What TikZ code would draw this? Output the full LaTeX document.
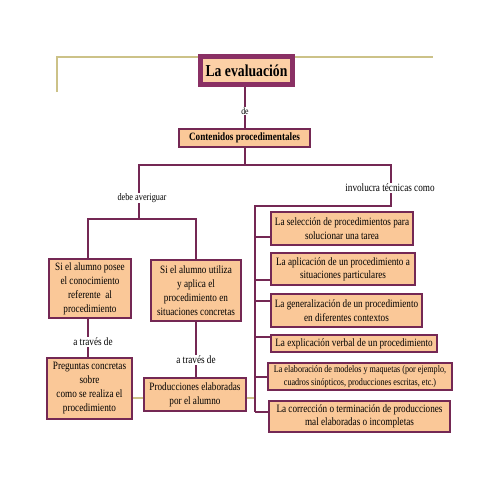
\documentclass[tikz,border=0pt]{standalone}
\usepackage{fontspec}
\setmainfont{Liberation Serif}[FakeStretch=0.82]
\definecolor{plum}{RGB}{116,40,84}
\definecolor{plumT}{RGB}{138,48,100}
\definecolor{peach}{RGB}{250,200,152}
\definecolor{peachT}{RGB}{252,208,166}
\definecolor{oliveln}{RGB}{204,194,136}
\tikzset{
  box/.style={draw=plum, line width=2pt, fill=peach, inner sep=0pt, align=center,
              font=\fontsize{11.2}{14}\selectfont},
  rbox/.style={box, line width=2.2pt, font=\fontsize{11.2}{13.4}\selectfont},
  conn/.style={draw=plum, line width=2pt},
  oliveline/.style={draw=oliveln, line width=1.5pt},
  lbl/.style={fill=white, inner sep=0.6pt, font=\fontsize{11.2}{13}\selectfont}
}
\begin{document}
\begin{tikzpicture}[x=1pt,y=-1pt]
\useasboundingbox[fill=white] (0,0) rectangle (495,495);
% olive background lines
\coordinate (t1) at (57,92);
\coordinate (t2) at (57,57);
\coordinate (t3) at (433,57);
\draw[oliveline] (t1) -- (t2) -- (t3);
\coordinate (o1) at (133,398);
\coordinate (o2) at (255,398);
\draw[oliveline] (o1) -- (o2);
% main nodes
\node[draw=plumT, line width=5pt, fill=peachT, inner sep=0pt, minimum width=92pt, minimum height=28pt,
      font=\fontsize{16.7}{18}\selectfont\bfseries] (T) at (246.5,70.5) {La evaluación};
\node[box, minimum width=131pt, minimum height=18pt, font=\fontsize{11.2}{13}\selectfont\bfseries] (C) at (244.5,138) {Contenidos procedimentales};
% left boxes
\node[box, minimum width=82pt, minimum height=59pt] (L1) at (90,288.5) {Si el alumno posee\\el conocimiento\\referente\ \ al\\procedimiento};
\node[box, minimum width=90pt, minimum height=61pt] (L2) at (196,290.5) {Si el alumno utiliza\\y aplica el\\procedimiento en\\situaciones concretas};
\node[box, minimum width=85pt, minimum height=61pt] (L3) at (89.5,388.5) {Preguntas concretas\\sobre\\como se realiza el\\procedimiento};
\node[box, minimum width=102pt, minimum height=33pt] (L4) at (195,394.5) {Producciones elaboradas\\por el alumno};
% right boxes
\node[rbox, minimum width=142pt, minimum height=33pt] (R1) at (342,228.5) {La selección de procedimientos para\\solucionar una tarea};
\node[rbox, minimum width=144pt, minimum height=32pt] (R2) at (343,269) {La aplicación de un procedimiento a\\situaciones particulares};
\node[rbox, minimum width=151pt, minimum height=33pt] (R3) at (346.5,310.5) {La generalización de un procedimiento\\en diferentes contextos};
\node[rbox, minimum width=166pt, minimum height=17pt] (R4) at (354,343.5) {La explicación verbal de un procedimiento};
\node[rbox, minimum width=184pt, minimum height=27pt, font=\fontsize{9.9}{12.4}\selectfont] (R5) at (360,376.5) {La elaboración de modelos y maquetas (por ejemplo,\\cuadros sinópticos, producciones escritas, etc.)};
\node[rbox, minimum width=181pt, minimum height=31pt] (R6) at (359.5,416.5) {La corrección o terminación de producciones\\mal elaboradas o incompletas};
% junction coordinates
\coordinate (jl) at (139,165);
\coordinate (jr) at (391,165);
\coordinate (jl2) at (139,219);
\coordinate (a1) at (88,219);
\coordinate (a2) at (196,219);
\coordinate (jr2) at (391,206);
\coordinate (v0) at (255,206);
\coordinate (v1) at (255,412);
\coordinate (b1) at (255,237);
\coordinate (b2) at (255,280);
\coordinate (b3) at (255,301);
\coordinate (b4) at (255,337);
\coordinate (b5) at (255,377);
\coordinate (b6) at (255,412);
% connectors
\draw[conn] (C.north |- T.south) -- (C.north);
\draw[conn] (C.south) -- (C.south |- jl);
\draw[conn] (jl2) -- (jl) -- (jr) -- (jr2) -- (v0) -- (v1);
\draw[conn] (a1 |- L1.north) -- (a1) -- (a2) -- (a2 |- L2.north);
\draw[conn] (a1 |- L1.south) -- (a1 |- L3.north);
\draw[conn] (a2 |- L2.south) -- (a2 |- L4.north);
\draw[conn] (b1) -- (b1 -| R1.west);
\draw[conn] (b2) -- (b2 -| R2.west);
\draw[conn] (b3) -- (b3 -| R3.west);
\draw[conn] (b4) -- (b4 -| R4.west);
\draw[conn] (b5) -- (b5 -| R5.west);
\draw[conn] (b6) -- (b6 -| R6.west);
% labels
\node[lbl, font=\fontsize{9.5}{11}\selectfont] (lde) at (245,111) {de};
\node[lbl, font=\fontsize{10.1}{12}\selectfont] (ldebe) at (142,198) {debe averiguar};
\node[lbl] (linv) at (390,188) {involucra técnicas como};
\node[lbl] (lat1) at (93,342) {a través de};
\node[lbl] (lat2) at (196,360) {a través de};
\end{tikzpicture}
\end{document}
